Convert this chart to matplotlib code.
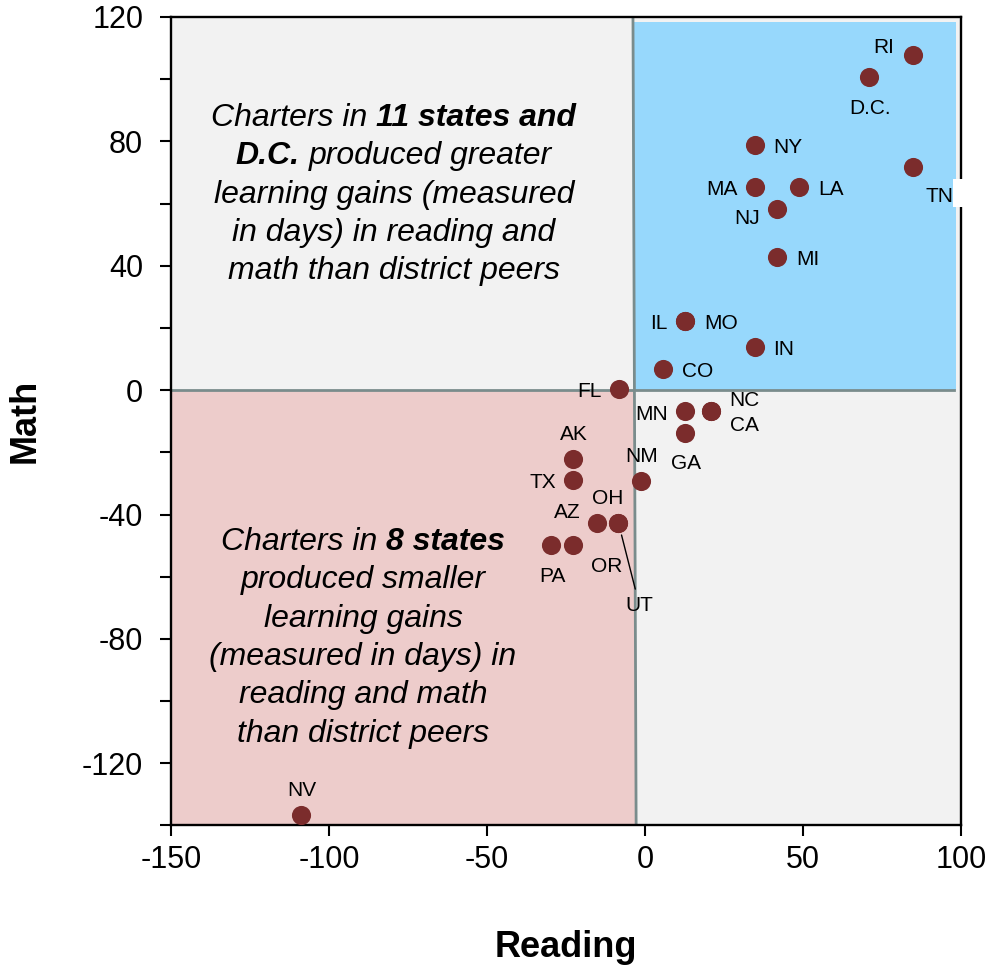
import matplotlib
matplotlib.use("Agg")
import matplotlib.pyplot as plt
from matplotlib.patches import Rectangle
from matplotlib.offsetbox import TextArea, HPacker, VPacker, AnchoredOffsetbox

plt.rcParams['font.family'] = ['Liberation Sans', 'DejaVu Sans']
plt.rcParams['axes.unicode_minus'] = False

# data: learning gains in days (reading, math) per state
states = ['RI', 'D.C.', 'NY', 'TN', 'MA', 'LA', 'NJ', 'MI', 'IL', 'MO', 'IN', 'CO', 'FL',
          'MN', 'NC', 'CA', 'GA', 'AK', 'TX', 'NM', 'OH', 'AZ', 'OR', 'UT', 'PA', 'NV']
reading = [84.7, 70.9, 34.8, 84.7, 34.8, 48.6, 41.7, 41.7, 12.7, 12.7, 34.8, 5.6, -8.3,
           12.7, 20.8, 20.8, 12.7, -22.9, -22.9, -1.4, -8.4, -15.3, -22.9, -8.4, -29.7, -109.0]
math = [107.9, 100.7, 78.8, 71.8, 65.4, 65.4, 58.2, 42.9, 22.2, 22.2, 14.0, 6.8, 0.5,
        -6.7, -6.7, -6.7, -13.7, -22.2, -28.9, -29.2, -42.7, -42.7, -49.7, -42.7, -49.7, -136.6]

x_ticks = [-150, -100, -50, 0, 50, 100]
y_ticks = list(range(-140, 121, 20))

# label placement (offset of label centre from dot, pixels)
offsets = {'RI': (-29, 9), 'D.C.': (1, -30), 'NY': (33, -1), 'TN': (27, -28), 'MA': (-33, -1),
           'LA': (32, -1), 'NJ': (-30, -8), 'MI': (31, -1), 'IL': (-26, -1), 'MO': (36, -1),
           'IN': (29, -1), 'CO': (35, -1), 'FL': (-29, -1), 'MN': (-33, -2), 'NC': (34, 12),
           'CA': (34, -13), 'GA': (1, -29), 'AK': (1, 26), 'TX': (-30, -1), 'NM': (1, 26),
           'OH': (-11, 26), 'AZ': (-29, 12), 'OR': (34, -20), 'UT': (21, -81), 'PA': (1, -30),
           'NV': (1, 26)}

# callout texts: (text, bold) pieces per line
upper_lines = [[("Charters in", False), ("11 states and", True)],
               [("D.C.", True), ("produced greater", False)],
               [("learning gains (measured", False)],
               [("in days) in reading and", False)],
               [("math than district peers", False)]]
lower_lines = [[("Charters in", False), ("8 states", True)],
               [("produced smaller", False)],
               [("learning gains", False)],
               [("(measured in days) in", False)],
               [("reading and math", False)],
               [("than district peers", False)]]

dot_color = '#7B2C2C'
line_color = '#7A8C8C'

fig = plt.figure(figsize=(9.9, 9.73), dpi=100)
ax = fig.add_axes([0.1727, 0.1516, 0.798, 0.831])
ax.set_xlim(-150, 100)
ax.set_ylim(-140, 120)
ax.set_facecolor('#F2F2F2')

# quadrant shading
ax.add_patch(Rectangle((-3.5, 0), 102, 118.5, facecolor='#97D8FC', edgecolor='none', zorder=1))
ax.add_patch(Rectangle((-150, -140), 146.8, 140, facecolor='#EDCCCB', edgecolor='none', zorder=1))
ax.plot([-3.8, -2.8], [119.5, -140], color=line_color, lw=2, zorder=2)
ax.plot([-150, 97.8], [0, 0], color=line_color, lw=2, zorder=2)

ax.scatter(reading, math, s=190, color=dot_color, linewidths=0, zorder=5)

for st, x, y in zip(states, reading, math):
    dx, dy = offsets[st]
    arrow = None
    if st == 'UT':
        arrow = dict(arrowstyle='-', color='black', lw=1, shrinkA=3, shrinkB=9)
    ax.annotate(st, (x, y), xytext=(dx, dy - 7), textcoords='offset pixels',
                ha='center', va='baseline', fontsize=15, zorder=6, arrowprops=arrow)

# white gap behind the TN label on the right spine
ax.add_patch(Rectangle((0.99, 0.765), 0.03, 0.034, transform=ax.transAxes,
                       facecolor='white', edgecolor='none', clip_on=False, zorder=3))


def rich_block(lines, x, y):
    rows = []
    for parts in lines:
        boxes = [TextArea(t, textprops=dict(fontsize=23, style='italic',
                                             weight='bold' if b else 'normal'))
                 for t, b in parts]
        rows.append(HPacker(children=boxes, align='baseline', pad=0, sep=6.4))
    block = VPacker(children=rows, align='center', pad=0, sep=6.0)
    ab = AnchoredOffsetbox(loc='center', child=block, bbox_to_anchor=(x, y),
                           bbox_transform=ax.transAxes, frameon=False, pad=0, borderpad=0)
    ab.set_zorder(6)
    ax.add_artist(ab)


rich_block(upper_lines, 0.282, 0.780)
rich_block(lower_lines, 0.243, 0.232)

ax.set_xticks(x_ticks)
ax.set_xticklabels([str(v) for v in x_ticks])
ax.set_yticks(y_ticks)
ax.set_yticklabels([str(v) if v % 40 == 0 else '' for v in y_ticks])
ax.tick_params(axis='both', direction='out', length=8, width=1.5, labelsize=22, color='black')
ax.tick_params(axis='y', pad=12)
ax.tick_params(axis='x', pad=6)
for s in ax.spines.values():
    s.set_linewidth(1.7)
    s.set_zorder(2.5)

ax.set_xlabel('Reading', fontsize=26, fontweight='bold', labelpad=40)
ax.set_ylabel('Math', fontsize=26, fontweight='bold', labelpad=28)

fig.savefig('out.png', dpi=100)
